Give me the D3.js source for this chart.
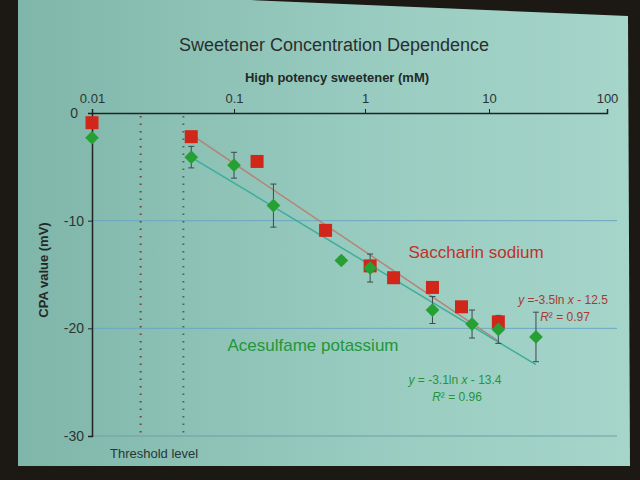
<!DOCTYPE html>
<meta charset="utf-8">
<style>
    body { margin: 0; background: #1c1814; }
    text { font-family: "Liberation Sans", Arial, sans-serif; }
</style>
<svg width="640" height="480"></svg>
<script src="https://d3js.org/d3.v7.min.js"></script>
<script>
    // concentrations (mM) and CPA values (mV)
    var sacX = [0.01, 0.05, 0.15, 0.5, 1.1, 1.7, 3.5, 6, 12];
    var sacY = [-0.9, -2.2, -4.5, -10.9, -14.2, -15.3, -16.2, -18.0, -19.4];
    var aceX = [0.01, 0.05, 0.1, 0.2, 0.66, 1.1, 3.5, 7.3, 12, 25];
    var aceY = [-2.3, -4.1, -4.85, -8.6, -13.7, -14.4, -18.3, -19.6, -20.1, -20.8];
    var aceErr = [0, 1.0, 1.2, 2.0, 0.3, 1.3, 1.25, 1.3, 1.3, 2.3];
    var xTicks = [0.01, 0.1, 1, 10, 100];
    var yTicks = [0, -10, -20, -30];
    var thresholds = [0.022, 0.044];
    // trend lines y = a ln x + b
    var trendA = [-3.5, -3.1];
    var trendB = [-12.5, -13.4];
    var trendRange = [[0.05, 12], [0.05, 25]];

    var svg = d3.select("svg");

    var grad = svg.append("defs").append("linearGradient").attr("id", "bg");
    grad.append("stop").attr("offset", "0%").attr("stop-color", "#7fb6a9");
    grad.append("stop").attr("offset", "55%").attr("stop-color", "#98cbbf");
    grad.append("stop").attr("offset", "100%").attr("stop-color", "#a6d5ca");

    // slide
    svg.append("path")
        .attr("d", "M18,0 L250,0 L628,16 L630,466 L18,466 Z")
        .attr("fill", "url(#bg)");

    // x scale follows the photographed decade spacing
    var x = d3.scaleLog()
        .domain([0.01, 0.1, 1, 10, 100])
        .range([92, 234, 365, 489, 607]);
    var y = d3.scaleLinear().domain([0, -30]).range([113, 436]);

    var g = svg.append("g");

    // grid lines
    g.selectAll(".grid")
        .data(yTicks.slice(1))
        .enter().append("line")
        .attr("x1", x(0.01)).attr("x2", 617)
        .attr("y1", function(d) { return y(d); })
        .attr("y2", function(d) { return y(d); })
        .attr("stroke", function(d) { return d === -30 ? "#6f9fa6" : "#6aa6c4"; })
        .attr("stroke-width", 1);

    // threshold lines
    g.selectAll(".thr")
        .data(thresholds)
        .enter().append("line")
        .attr("x1", function(d) { return x(d); })
        .attr("x2", function(d) { return x(d); })
        .attr("y1", y(0) + 3).attr("y2", y(-30))
        .attr("stroke", function(d, i) { return i === 0 ? "#7a3e3c" : "#3f6e58"; })
        .attr("stroke-width", 2)
        .attr("stroke-dasharray", "1.5,6");

    // axes
    var xAxis = d3.axisTop(x).tickValues(xTicks).tickSize(4).tickFormat(d3.format("~g"));
    var xa = g.append("g").attr("transform", "translate(0," + y(0) + ")").call(xAxis);
    xa.select(".domain").attr("stroke", "#222").attr("stroke-width", 1.5);
    xa.selectAll("text").attr("font-size", 13).attr("fill", "#2a3634").attr("dy", "-0.2em");
    xa.selectAll("line").attr("stroke", "#222");

    var yAxis = d3.axisLeft(y).tickValues(yTicks).tickSize(4)
        .tickFormat(function(d) { return String(d); });
    var ya = g.append("g").attr("transform", "translate(" + x(0.01) + ",0)").call(yAxis);
    ya.select(".domain").attr("stroke", "#222").attr("stroke-width", 1.5);
    ya.selectAll("text").attr("font-size", 14).attr("fill", "#2a3634").attr("x", -8);
    ya.selectAll(".tick").filter(function(d) { return d === 0; }).select("text").attr("x", -14);
    ya.selectAll("line").attr("stroke", "#222");

    // trend lines
    var line = d3.line()
        .x(function(d) { return x(d[0]); })
        .y(function(d) { return y(d[1]); });
    var trendColors = ["#b58478", "#3eae9c"];
    trendA.forEach(function(a, i) {
        var pts = trendRange[i].map(function(v) { return [v, a * Math.log(v) + trendB[i]]; });
        g.append("path")
            .attr("d", line(pts))
            .attr("fill", "none")
            .attr("stroke", trendColors[i])
            .attr("stroke-width", 1.5);
    });

    // error bars (acesulfame)
    var ace = aceX.map(function(v, i) { return { x: v, y: aceY[i], e: aceErr[i] }; });
    var eb = g.selectAll(".err")
        .data(ace.filter(function(d) { return d.e > 0; }))
        .enter().append("g")
        .attr("stroke", "#3a4a50").attr("stroke-width", 1);
    eb.append("line")
        .attr("x1", function(d) { return x(d.x); }).attr("x2", function(d) { return x(d.x); })
        .attr("y1", function(d) { return y(d.y + d.e); }).attr("y2", function(d) { return y(d.y - d.e); });
    eb.append("line")
        .attr("x1", function(d) { return x(d.x) - 3; }).attr("x2", function(d) { return x(d.x) + 3; })
        .attr("y1", function(d) { return y(d.y + d.e); }).attr("y2", function(d) { return y(d.y + d.e); });
    eb.append("line")
        .attr("x1", function(d) { return x(d.x) - 3; }).attr("x2", function(d) { return x(d.x) + 3; })
        .attr("y1", function(d) { return y(d.y - d.e); }).attr("y2", function(d) { return y(d.y - d.e); });

    // saccharin squares
    var sac = sacX.map(function(v, i) { return { x: v, y: sacY[i] }; });
    g.selectAll(".sq")
        .data(sac)
        .enter().append("rect")
        .attr("x", function(d) { return x(d.x) - 6.5; })
        .attr("y", function(d) { return y(d.y) - 6.5; })
        .attr("width", 13).attr("height", 13)
        .attr("fill", "#d1261a");

    // acesulfame diamonds
    g.selectAll(".dm")
        .data(ace)
        .enter().append("path")
        .attr("d", d3.symbol().type(d3.symbolDiamond2).size(120))
        .attr("transform", function(d) { return "translate(" + x(d.x) + "," + y(d.y) + ")"; })
        .attr("fill", "#27a033");

    // texts
    svg.append("text").attr("x", 334).attr("y", 51).attr("text-anchor", "middle")
        .attr("font-size", 18).attr("fill", "#2a2f2e")
        .text("Sweetener Concentration Dependence");
    svg.append("text").attr("x", 337).attr("y", 82).attr("text-anchor", "middle")
        .attr("font-size", 13).attr("font-weight", "bold").attr("fill", "#1f2a28")
        .text("High potency sweetener (mM)");
    svg.append("text").attr("transform", "translate(48,270) rotate(-90)").attr("text-anchor", "middle")
        .attr("font-size", 13).attr("font-weight", "bold").attr("fill", "#1f2a28")
        .text("CPA value (mV)");
    svg.append("text").attr("x", 110).attr("y", 458)
        .attr("font-size", 13).attr("fill", "#2a3634")
        .text("Threshold level");

    svg.append("text").attr("x", 476).attr("y", 258).attr("text-anchor", "middle")
        .attr("font-size", 17).attr("fill", "#c2302a").text("Saccharin sodium");
    svg.append("text").attr("x", 313).attr("y", 351).attr("text-anchor", "middle")
        .attr("font-size", 17).attr("fill", "#23963a").text("Acesulfame potassium");

    function eq(cx, cy, a, b, r2, col) {
        var t1 = svg.append("text").attr("x", cx).attr("y", cy).attr("text-anchor", "middle")
            .attr("font-size", 12).attr("fill", col);
        t1.append("tspan").attr("font-style", "italic").text("y");
        t1.append("tspan").text(" =" + (a < -3.3 ? "" : " ") + a + "ln ");
        t1.append("tspan").attr("font-style", "italic").text("x");
        t1.append("tspan").text(" - " + (-b));
        var t2 = svg.append("text").attr("x", cx + 2).attr("y", cy + 17).attr("text-anchor", "middle")
            .attr("font-size", 12).attr("fill", col);
        t2.append("tspan").attr("font-style", "italic").text("R");
        t2.append("tspan").text("² = " + r2);
    }
    eq(563, 304, trendA[0], trendB[0], "0.97", "#a83a30");
    eq(455, 384, trendA[1], trendB[1], "0.96", "#23963a");
</script>
